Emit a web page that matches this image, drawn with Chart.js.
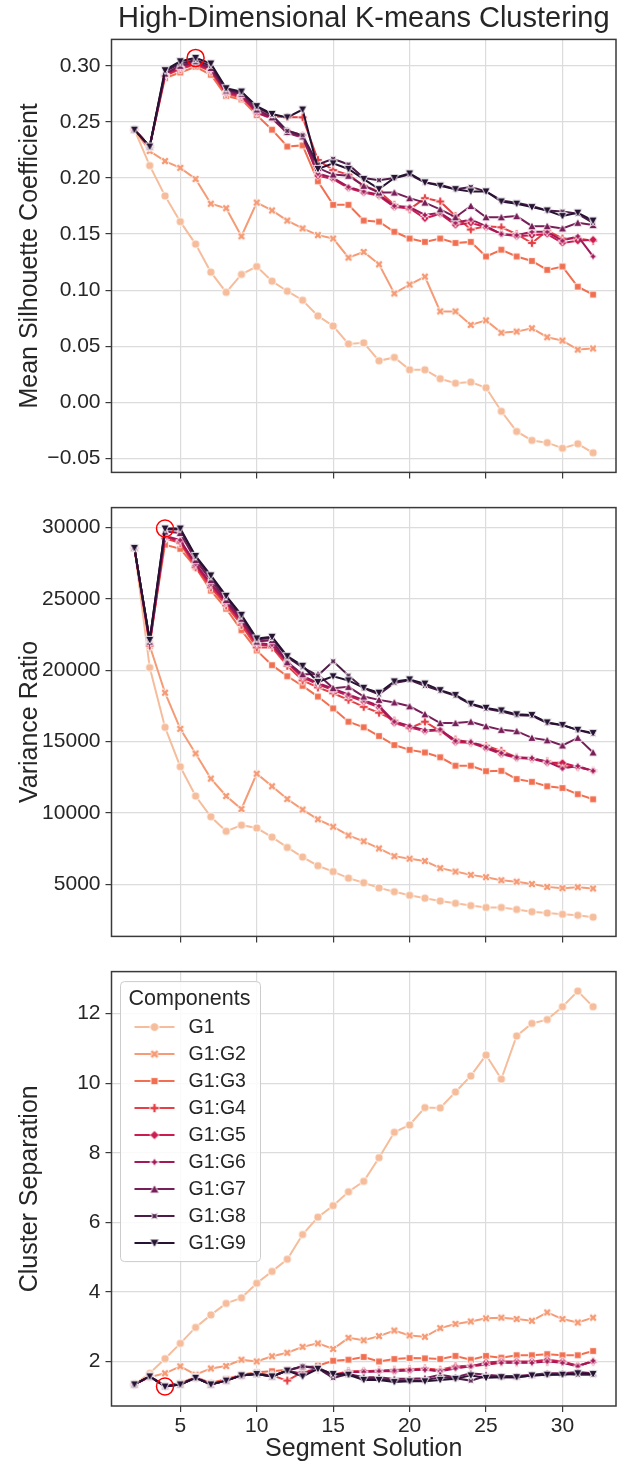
<!DOCTYPE html>
<html>
<head>
<meta charset="utf-8">
<script src="https://cdn.jsdelivr.net/npm/chart.js@4.4.1/dist/chart.umd.min.js"></script>
<style>
  body { margin: 0; background: #fff; }
  #wrap { position: relative; width: 626px; height: 1464px; }
  canvas { position: absolute; left: 0; }
</style>
</head>
<body>
<div id="wrap">
  <canvas id="silhouetteChart" width="626" height="490" style="top:0px"></canvas>
  <canvas id="varianceChart" width="626" height="464" style="top:490px"></canvas>
  <canvas id="separationChart" width="626" height="510" style="top:954px"></canvas>
</div>
<script>
// segment solutions (number of clusters)
const segments = [2, 3, 4, 5, 6, 7, 8, 9, 10, 11, 12, 13, 14, 15, 16, 17, 18, 19, 20, 21, 22, 23, 24, 25, 26, 27, 28, 29, 30, 31, 32];
const components = ["G1", "G1:G2", "G1:G3", "G1:G4", "G1:G5", "G1:G6", "G1:G7", "G1:G8", "G1:G9"];

const xTicks = [5, 10, 15, 20, 25, 30];
const silhouetteTicks = [-0.05, 0, 0.05, 0.10, 0.15, 0.20, 0.25, 0.30];
const varianceTicks = [5000, 10000, 15000, 20000, 25000, 30000];
const separationTicks = [2, 4, 6, 8, 10, 12];

// Mean silhouette coefficient
const silhouetteG1 = [0.243, 0.211, 0.184, 0.161, 0.141, 0.116, 0.098, 0.114, 0.121, 0.108, 0.099, 0.091, 0.077, 0.068, 0.052, 0.053, 0.037, 0.040, 0.029, 0.029, 0.021, 0.017, 0.018, 0.013, -0.008, -0.026, -0.034, -0.036, -0.041, -0.037, -0.045];
const silhouetteG2 = [0.243, 0.224, 0.215, 0.209, 0.199, 0.177, 0.173, 0.148, 0.178, 0.171, 0.162, 0.155, 0.149, 0.146, 0.129, 0.134, 0.123, 0.097, 0.105, 0.112, 0.081, 0.081, 0.069, 0.073, 0.062, 0.063, 0.066, 0.058, 0.055, 0.047, 0.048];
const silhouetteG3 = [0.243, 0.228, 0.289, 0.294, 0.299, 0.292, 0.273, 0.270, 0.256, 0.243, 0.228, 0.229, 0.197, 0.176, 0.176, 0.162, 0.161, 0.152, 0.146, 0.143, 0.146, 0.142, 0.143, 0.130, 0.136, 0.130, 0.126, 0.118, 0.121, 0.103, 0.096];
const silhouetteG4 = [0.243, 0.228, 0.291, 0.297, 0.301, 0.295, 0.275, 0.272, 0.259, 0.255, 0.254, 0.254, 0.216, 0.207, 0.203, 0.193, 0.188, 0.176, 0.172, 0.182, 0.179, 0.166, 0.154, 0.157, 0.156, 0.150, 0.142, 0.153, 0.146, 0.146, 0.144];
const silhouetteG5 = [0.243, 0.228, 0.292, 0.298, 0.302, 0.296, 0.276, 0.273, 0.258, 0.253, 0.242, 0.238, 0.202, 0.199, 0.191, 0.187, 0.184, 0.174, 0.173, 0.164, 0.168, 0.158, 0.160, 0.156, 0.150, 0.148, 0.149, 0.150, 0.142, 0.144, 0.145];
const silhouetteG6 = [0.243, 0.228, 0.293, 0.299, 0.303, 0.297, 0.277, 0.274, 0.259, 0.253, 0.240, 0.236, 0.204, 0.200, 0.192, 0.188, 0.185, 0.175, 0.174, 0.167, 0.169, 0.160, 0.163, 0.157, 0.150, 0.149, 0.152, 0.152, 0.144, 0.148, 0.130];
const silhouetteG7 = [0.243, 0.228, 0.293, 0.300, 0.304, 0.298, 0.278, 0.275, 0.261, 0.254, 0.241, 0.237, 0.209, 0.203, 0.202, 0.193, 0.187, 0.187, 0.182, 0.178, 0.172, 0.165, 0.175, 0.165, 0.165, 0.166, 0.157, 0.157, 0.155, 0.160, 0.158];
const silhouetteG8 = [0.243, 0.228, 0.295, 0.302, 0.305, 0.300, 0.279, 0.276, 0.263, 0.256, 0.242, 0.238, 0.212, 0.217, 0.212, 0.200, 0.198, 0.200, 0.203, 0.196, 0.194, 0.190, 0.192, 0.188, 0.180, 0.178, 0.175, 0.171, 0.170, 0.168, 0.160];
const silhouetteG9 = [0.243, 0.228, 0.296, 0.304, 0.307, 0.302, 0.280, 0.277, 0.264, 0.257, 0.254, 0.261, 0.208, 0.213, 0.208, 0.199, 0.190, 0.200, 0.204, 0.196, 0.193, 0.190, 0.188, 0.188, 0.179, 0.177, 0.174, 0.171, 0.166, 0.169, 0.162];

// Variance ratio
const varianceG1 = [28550, 20180, 16000, 13240, 11190, 9740, 8720, 9150, 8950, 8310, 7590, 6920, 6310, 5900, 5440, 5120, 4760, 4490, 4240, 4040, 3840, 3680, 3520, 3390, 3390, 3250, 3090, 3000, 2910, 2840, 2710];
const varianceG2 = [28550, 21700, 18420, 15890, 14170, 12410, 11190, 10280, 12750, 11870, 10980, 10240, 9560, 9040, 8430, 8020, 7520, 6980, 6800, 6640, 6140, 5900, 5670, 5510, 5290, 5190, 5030, 4830, 4740, 4810, 4720];
const varianceG3 = [28550, 22000, 28780, 28490, 27200, 25570, 24300, 22790, 21380, 20350, 19570, 18900, 18150, 17320, 16390, 16000, 15390, 14760, 14420, 14240, 13900, 13310, 13310, 12930, 12950, 12380, 12180, 11870, 11750, 11320, 10960];
const varianceG4 = [28550, 21720, 29230, 28890, 27200, 25790, 24530, 23170, 21590, 21590, 20300, 19280, 18790, 18380, 17920, 17430, 17020, 16460, 15940, 16390, 15730, 15140, 14920, 14710, 14350, 13900, 13790, 13630, 13290, 13220, 12950];
const varianceG5 = [28550, 21900, 29350, 29000, 27350, 25950, 24700, 23350, 21800, 21700, 20500, 19500, 19000, 18600, 18200, 17800, 17400, 16300, 16000, 15730, 15800, 14960, 14920, 14530, 14120, 13850, 13790, 13510, 13510, 13220, 12950];
const varianceG6 = [28550, 21950, 29400, 29100, 27450, 26050, 24800, 23450, 21900, 21800, 20600, 19600, 19100, 18700, 18300, 17900, 17500, 16400, 16100, 15800, 15850, 15050, 14980, 14600, 14200, 13900, 13850, 13600, 13110, 13290, 12950];
const varianceG7 = [28550, 22000, 29700, 29600, 27700, 26300, 24900, 23600, 22000, 22100, 20550, 19710, 19710, 18740, 18830, 18150, 17920, 17740, 17470, 16910, 16300, 16300, 16390, 16070, 15820, 15730, 15260, 15090, 14730, 15260, 14240];
const varianceG8 = [28550, 22100, 29850, 29850, 27900, 26500, 25100, 23750, 22150, 22250, 20900, 20200, 19620, 20620, 19620, 18720, 18300, 19100, 19300, 18900, 18550, 18200, 17600, 17300, 17100, 16850, 16800, 16300, 16150, 15800, 15550];
const varianceG9 = [28550, 22110, 29910, 29910, 27990, 26630, 25200, 23870, 22220, 22330, 20980, 20300, 19170, 19570, 19280, 18760, 18420, 19210, 19350, 19060, 18600, 18260, 17650, 17360, 17180, 16910, 16860, 16340, 16160, 15820, 15600];

// Cluster separation
const separationG1 = [1.34, 1.66, 2.08, 2.52, 2.98, 3.34, 3.67, 3.83, 4.25, 4.59, 4.94, 5.65, 6.15, 6.48, 6.88, 7.18, 7.86, 8.59, 8.80, 9.30, 9.29, 9.75, 10.21, 10.81, 10.12, 11.36, 11.72, 11.83, 12.20, 12.65, 12.20];
const separationG2 = [1.34, 1.55, 1.66, 1.86, 1.62, 1.80, 1.87, 2.05, 2.00, 2.15, 2.25, 2.42, 2.52, 2.36, 2.68, 2.61, 2.73, 2.89, 2.75, 2.71, 2.96, 3.08, 3.15, 3.24, 3.26, 3.22, 3.17, 3.41, 3.22, 3.12, 3.26];
const separationG3 = [1.34, 1.55, 1.30, 1.38, 1.55, 1.38, 1.50, 1.62, 1.69, 1.72, 1.76, 1.83, 1.88, 2.02, 2.05, 2.13, 2.00, 2.07, 2.10, 2.09, 2.07, 2.16, 2.05, 2.16, 2.11, 2.18, 2.18, 2.21, 2.18, 2.18, 2.30];
const separationG4 = [1.34, 1.57, 1.30, 1.36, 1.53, 1.36, 1.46, 1.60, 1.66, 1.60, 1.45, 1.70, 1.78, 1.62, 1.72, 1.72, 1.74, 1.76, 1.78, 1.80, 1.76, 1.86, 1.88, 1.90, 1.98, 1.97, 1.98, 1.99, 1.98, 1.88, 2.00];
const separationG5 = [1.34, 1.57, 1.30, 1.35, 1.53, 1.35, 1.45, 1.60, 1.66, 1.58, 1.74, 1.62, 1.80, 1.58, 1.70, 1.72, 1.72, 1.72, 1.74, 1.78, 1.72, 1.84, 1.86, 1.97, 2.00, 2.00, 2.00, 2.05, 2.00, 1.88, 2.00];
const separationG6 = [1.34, 1.57, 1.30, 1.35, 1.53, 1.35, 1.45, 1.60, 1.65, 1.58, 1.73, 1.65, 1.80, 1.60, 1.70, 1.70, 1.72, 1.74, 1.76, 1.76, 1.72, 1.80, 1.86, 1.92, 1.96, 1.96, 1.96, 2.00, 1.96, 1.86, 2.02];
const separationG7 = [1.34, 1.57, 1.29, 1.34, 1.53, 1.34, 1.45, 1.60, 1.64, 1.57, 1.74, 1.86, 1.82, 1.62, 1.64, 1.55, 1.55, 1.50, 1.50, 1.52, 1.62, 1.55, 1.66, 1.62, 1.58, 1.58, 1.62, 1.66, 1.66, 1.70, 1.66];
const separationG8 = [1.34, 1.57, 1.28, 1.34, 1.53, 1.34, 1.45, 1.60, 1.64, 1.57, 1.74, 1.86, 1.80, 1.53, 1.64, 1.50, 1.50, 1.45, 1.45, 1.46, 1.55, 1.52, 1.45, 1.58, 1.55, 1.55, 1.60, 1.62, 1.64, 1.62, 1.62];
const separationG9 = [1.34, 1.57, 1.28, 1.34, 1.53, 1.34, 1.45, 1.60, 1.64, 1.57, 1.74, 1.57, 1.79, 1.64, 1.62, 1.47, 1.47, 1.41, 1.43, 1.43, 1.47, 1.50, 1.60, 1.53, 1.55, 1.55, 1.60, 1.62, 1.62, 1.66, 1.64];

const silhouette = [silhouetteG1, silhouetteG2, silhouetteG3, silhouetteG4, silhouetteG5, silhouetteG6, silhouetteG7, silhouetteG8, silhouetteG9];
const variance = [varianceG1, varianceG2, varianceG3, varianceG4, varianceG5, varianceG6, varianceG7, varianceG8, varianceG9];
const separation = [separationG1, separationG2, separationG3, separationG4, separationG5, separationG6, separationG7, separationG8, separationG9];

// rocket_r colours and seaborn marker set
const palette = ["#f6bd9c", "#f59b76", "#f16f50", "#e54045", "#cb1b4f", "#a11959", "#761e57", "#4d1b48", "#261333"];
const markerShapes = ["circle", "xfill", "square", "plus", "diamond", "star4", "tri_up", "star4rot", "tri_down"];

const FONT = '"Liberation Sans", Arial, sans-serif';
const TEXT = "#262626";
const GRID = "#dcdcdc";

function rotPts(pts, ang) {
    var c = Math.cos(ang), s = Math.sin(ang);
    return pts.map(p => [p[0] * c - p[1] * s, p[0] * s + p[1] * c]);
}

function markerPath(ctx, shape, r) {
    var pts;
    var a = r * 0.36;
    var plus = [[-a, -r], [a, -r], [a, -a], [r, -a], [r, a], [a, a], [a, r], [-a, r], [-a, a], [-r, a], [-r, -a], [-a, -a]];
    if (shape === "circle") {
        ctx.arc(0, 0, r * 0.95, 0, Math.PI * 2);
        return;
    }
    if (shape === "plus") pts = plus;
    if (shape === "xfill") pts = rotPts(plus, Math.PI / 4);
    if (shape === "square") { var h = r * 0.78; pts = [[-h, -h], [h, -h], [h, h], [-h, h]]; }
    if (shape === "diamond") pts = [[0, -r], [r, 0], [0, r], [-r, 0]];
    if (shape === "star4" || shape === "star4rot") {
        pts = [];
        var off = shape === "star4" ? -Math.PI / 2 : -Math.PI / 4;
        for (var i = 0; i < 8; i++) {
            var rr = i % 2 === 0 ? r * 1.05 : r * 0.45;
            var ang = off + i * Math.PI / 4;
            pts.push([rr * Math.cos(ang), rr * Math.sin(ang)]);
        }
    }
    if (shape === "tri_up") pts = [[0, -r], [r, r * 0.85], [-r, r * 0.85]];
    if (shape === "tri_down") pts = [[0, r], [r, -r * 0.85], [-r, -r * 0.85]];
    ctx.moveTo(pts[0][0], pts[0][1]);
    for (var j = 1; j < pts.length; j++) ctx.lineTo(pts[j][0], pts[j][1]);
    ctx.closePath();
}

function makeMarker(shape, color, r) {
    var c = document.createElement("canvas");
    c.width = 14; c.height = 14;
    var ctx = c.getContext("2d");
    ctx.translate(7, 7);
    ctx.beginPath();
    markerPath(ctx, shape, r);
    ctx.fillStyle = color;
    ctx.fill();
    ctx.lineWidth = 0.9;
    ctx.strokeStyle = "#ffffff";
    ctx.stroke();
    return c;
}

const markers = markerShapes.map((m, i) => makeMarker(m, palette[i], 4.3));
const legendMarkers = markerShapes.map((m, i) => makeMarker(m, palette[i], 4.6));

// dark frame round the plot area (all four spines)
const frame = {
    id: "frame",
    afterDraw(chart) {
        const a = chart.chartArea, ctx = chart.ctx;
        ctx.save();
        ctx.strokeStyle = "#3a3a3a";
        ctx.lineWidth = 1.5;
        ctx.strokeRect(a.left, a.top, a.right - a.left, a.bottom - a.top);
        ctx.restore();
    }
};

// matplotlib style legend box in the upper left corner
const componentLegend = {
    id: "componentLegend",
    afterDatasetsDraw(chart) {
        const a = chart.chartArea, ctx = chart.ctx;
        const bx = a.left + 9, by = a.top + 10, bw = 140, bh = 280;
        ctx.save();
        ctx.beginPath();
        ctx.roundRect(bx, by, bw, bh, 4);
        ctx.fillStyle = "rgba(255,255,255,0.85)";
        ctx.fill();
        ctx.strokeStyle = "#cccccc";
        ctx.lineWidth = 1;
        ctx.stroke();
        ctx.fillStyle = TEXT;
        ctx.textBaseline = "middle";
        ctx.textAlign = "left";
        ctx.font = "21.5px " + FONT;
        ctx.fillText("Components", bx + 8, by + 17);
        ctx.font = "19.5px " + FONT;
        components.forEach((name, i) => {
            const y = by + 45.5 + i * 27;
            ctx.strokeStyle = palette[i];
            ctx.lineWidth = 2;
            ctx.beginPath();
            ctx.moveTo(bx + 14, y);
            ctx.lineTo(bx + 54, y);
            ctx.stroke();
            ctx.drawImage(legendMarkers[i], bx + 34 - 7, y - 7);
            ctx.fillStyle = TEXT;
            ctx.fillText(name, bx + 68, y + 1);
        });
        ctx.restore();
    }
};

function bestPoint(values, pick) {
    var best = 0;
    values.forEach((v, j) => { if (pick(v, values[best])) best = j; });
    return { x: segments[best], y: values[best] };
}

function buildDatasets(series, best) {
    var ds = series.map((values, i) => ({
        label: components[i],
        data: segments.map((k, j) => ({ x: k, y: values[j] })),
        borderColor: palette[i],
        backgroundColor: palette[i],
        borderWidth: 2,
        pointStyle: markers[i],
        pointRadius: 4,
        pointHoverRadius: 4,
        order: 9 - i
    }));
    ds.push({
        label: "best",
        data: [best],
        showLine: false,
        pointStyle: "circle",
        pointRadius: 8.5,
        pointBorderWidth: 1.5,
        pointBorderColor: "#ff0000",
        pointBackgroundColor: "rgba(0,0,0,0)",
        order: 0
    });
    return ds;
}

function makePanel(id, cfg) {
    return new Chart(document.getElementById(id), {
        type: "line",
        data: { datasets: buildDatasets(cfg.series, cfg.best) },
        plugins: cfg.legend ? [frame, componentLegend] : [frame],
        options: {
            responsive: false,
            animation: false,
            devicePixelRatio: 1,
            layout: { padding: { top: cfg.padTop, right: 2, left: 0, bottom: 0 } },
            plugins: {
                legend: { display: false },
                tooltip: { enabled: false },
                title: {
                    display: !!cfg.title,
                    text: cfg.title || "",
                    fullSize: false,
                    color: TEXT,
                    font: { family: FONT, size: 29, weight: "normal", lineHeight: 1.2 },
                    padding: { top: 2, bottom: 2.6 }
                }
            },
            scales: {
                x: {
                    type: "linear",
                    min: 0.5,
                    max: 33.5,
                    afterBuildTicks: s => { s.ticks = xTicks.map(v => ({ value: v })); },
                    afterFit: s => { s.height = cfg.xHeight; },
                    grid: { color: GRID, lineWidth: 1.2, tickLength: 6, tickColor: "#3a3a3a" },
                    border: { display: false },
                    ticks: { display: cfg.showX, color: TEXT, font: { family: FONT, size: 21 }, padding: 2, maxRotation: 0 },
                    title: { display: cfg.showX, text: "Segment Solution", color: TEXT, font: { family: FONT, size: 25 }, padding: { top: 0, bottom: 0 } }
                },
                y: {
                    type: "linear",
                    min: cfg.yMin,
                    max: cfg.yMax,
                    afterBuildTicks: s => { s.ticks = cfg.yTicks.map(v => ({ value: v })); },
                    afterFit: s => { s.width = 111.5; },
                    grid: { color: GRID, lineWidth: 1.2, tickLength: 6, tickColor: "#3a3a3a" },
                    border: { display: false },
                    ticks: { color: TEXT, font: { family: FONT, size: 21 }, padding: 5, callback: cfg.fmt },
                    title: { display: true, text: cfg.yTitle, color: TEXT, font: { family: FONT, size: 25 }, padding: { top: 15, bottom: 0 } }
                }
            }
        }
    });
}

makePanel("silhouetteChart", {
    series: silhouette,
    best: bestPoint(silhouetteG9, (v, b) => v > b),
    title: "High-Dimensional K-means Clustering",
    padTop: 0,
    xHeight: 9,
    showX: false,
    yMin: -0.0625,
    yMax: 0.3235,
    yTicks: silhouetteTicks,
    yTitle: "Mean Silhouette Coefficient",
    fmt: v => (v < 0 ? "\u2212" : "") + Math.abs(v).toFixed(2)
});

makePanel("varianceChart", {
    series: variance,
    best: bestPoint(varianceG9, (v, b) => v > b),
    padTop: 12,
    xHeight: 10,
    showX: false,
    yMin: 1364,
    yMax: 31377,
    yTicks: varianceTicks,
    yTitle: "Variance Ratio",
    fmt: v => String(v)
});

makePanel("separationChart", {
    series: separation,
    best: bestPoint(separationG9, (v, b) => v < b),
    legend: true,
    padTop: 10,
    xHeight: 58,
    showX: true,
    yMin: 0.72,
    yMax: 13.21,
    yTicks: separationTicks,
    yTitle: "Cluster Separation",
    fmt: v => String(v)
});
</script>
</body>
</html>
